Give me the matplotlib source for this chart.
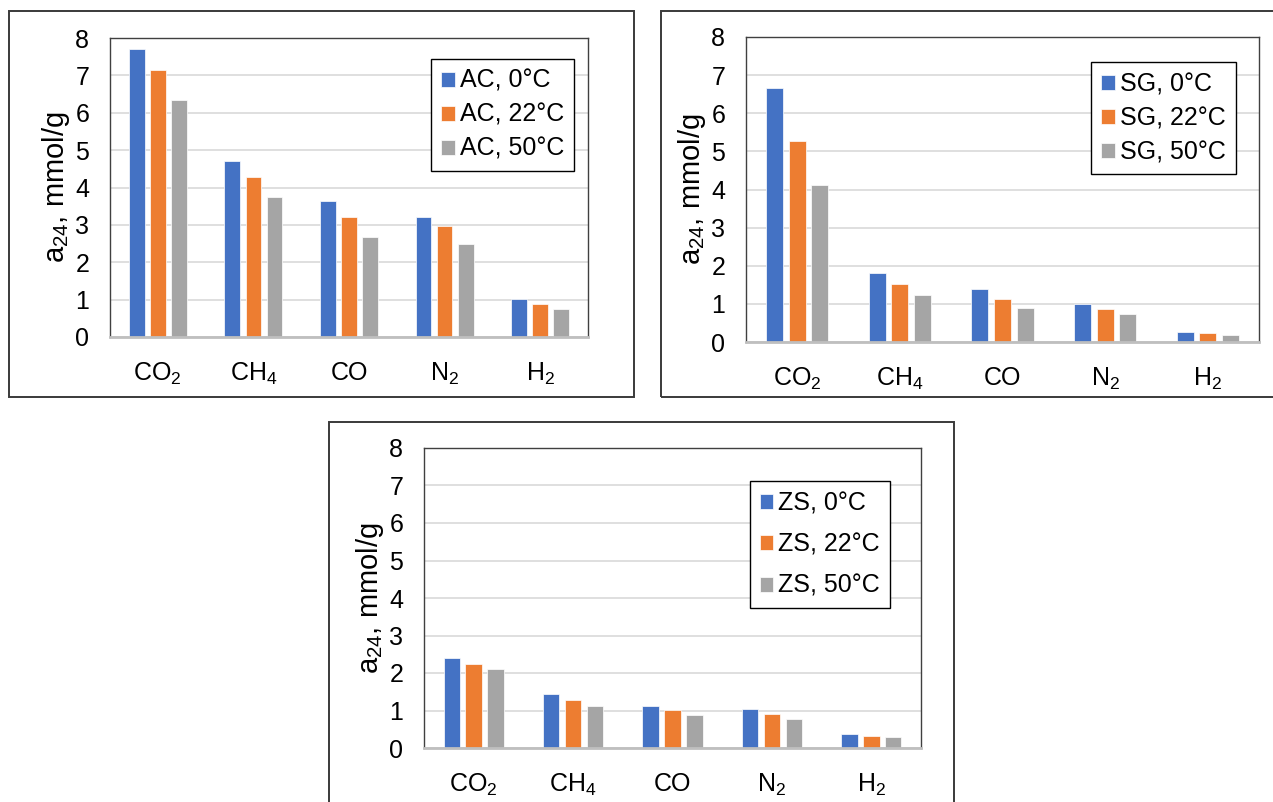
import numpy as np
import matplotlib
matplotlib.use('Agg')
import matplotlib.pyplot as plt
from matplotlib.patches import Rectangle

plt.rcParams['font.family'] = ['Liberation Sans', 'DejaVu Sans']
plt.rcParams['mathtext.fontset'] = 'custom'
plt.rcParams['mathtext.rm'] = 'Liberation Sans'
plt.rcParams['mathtext.it'] = 'Liberation Sans:italic'

gases = [r'CO$_2$', r'CH$_4$', 'CO', r'N$_2$', r'H$_2$']
temps = ['0°C', '22°C', '50°C']
colors = ['#4472C4', '#ED7D31', '#A5A5A5']

ac_values = [[7.71, 4.72, 3.63, 3.20, 1.01],
             [7.15, 4.27, 3.20, 2.96, 0.89],
             [6.34, 3.75, 2.67, 2.49, 0.76]]
sg_values = [[6.67, 1.80, 1.38, 0.99, 0.25],
             [5.27, 1.52, 1.14, 0.86, 0.23],
             [4.12, 1.24, 0.89, 0.74, 0.19]]
zs_values = [[2.39, 1.43, 1.13, 1.05, 0.37],
             [2.24, 1.29, 1.02, 0.91, 0.33],
             [2.11, 1.11, 0.88, 0.77, 0.29]]


def make_panel(fig, rect, name, values, legend_anchor, label_spacing):
    ax = fig.add_axes(rect)
    x = np.arange(len(gases))
    for i, temp in enumerate(temps):
        ax.bar(x + (i - 1) * 0.22, values[i], width=0.165, color=colors[i],
               edgecolor='white', linewidth=0.5, label=name + ', ' + temp, zorder=3)

    ax.set_xlim(-0.5, len(gases) - 0.5)
    ax.set_ylim(0, 8)
    ax.set_yticks(range(0, 9))
    ax.yaxis.grid(True, color='#D9D9D9', linewidth=1.2, zorder=0)
    ax.set_xticks(x)
    ax.set_xticklabels(gases)
    ax.tick_params(axis='both', length=0, labelsize=18)
    ax.tick_params(axis='x', pad=17)
    ax.tick_params(axis='y', pad=15)

    for side in ['left', 'top', 'right']:
        ax.spines[side].set_color('#404040')
        ax.spines[side].set_linewidth(1.0)
    ax.spines['bottom'].set_color('#BFBFBF')
    ax.spines['bottom'].set_linewidth(2.0)
    ax.spines['bottom'].set_zorder(4)

    ax.set_ylabel(r'a$_{24}$, mmol/g', fontsize=21, labelpad=2)

    leg = ax.legend(loc='upper right', bbox_to_anchor=legend_anchor, borderaxespad=0,
                    fontsize=18, frameon=True, fancybox=False, framealpha=1,
                    edgecolor='black', handlelength=0.55, handleheight=0.55,
                    handletextpad=0.2, labelspacing=label_spacing, borderpad=0.4)
    leg.get_frame().set_linewidth(1.0)
    return ax


def main():
    fig = plt.figure(figsize=(12.73, 8.02), dpi=100)

    # outer frames around each chart (pixel boxes converted to figure fractions)
    W, H = 1273.0, 802.0
    for x0, y0, x1, y1 in [(9, 11, 634, 397), (661, 11, 1290, 397), (329, 422, 954, 820)]:
        fig.patches.append(Rectangle((x0 / W, 1 - y1 / H), (x1 - x0) / W, (y1 - y0) / H,
                                     transform=fig.transFigure, fill=False,
                                     edgecolor='#3a3a3a', linewidth=1.4, zorder=0))

    make_panel(fig, [110 / W, 1 - 337 / H, 478 / W, 299 / H], 'AC', ac_values, (0.971, 0.930), 0.4)
    make_panel(fig, [746 / W, 1 - 342 / H, 513 / W, 305 / H], 'SG', sg_values, (0.955, 0.918), 0.4)
    make_panel(fig, [424 / W, 1 - 748 / H, 497 / W, 300 / H], 'ZS', zs_values, (0.938, 0.890), 0.7)

    fig.savefig('out.png', dpi=100)


main()
